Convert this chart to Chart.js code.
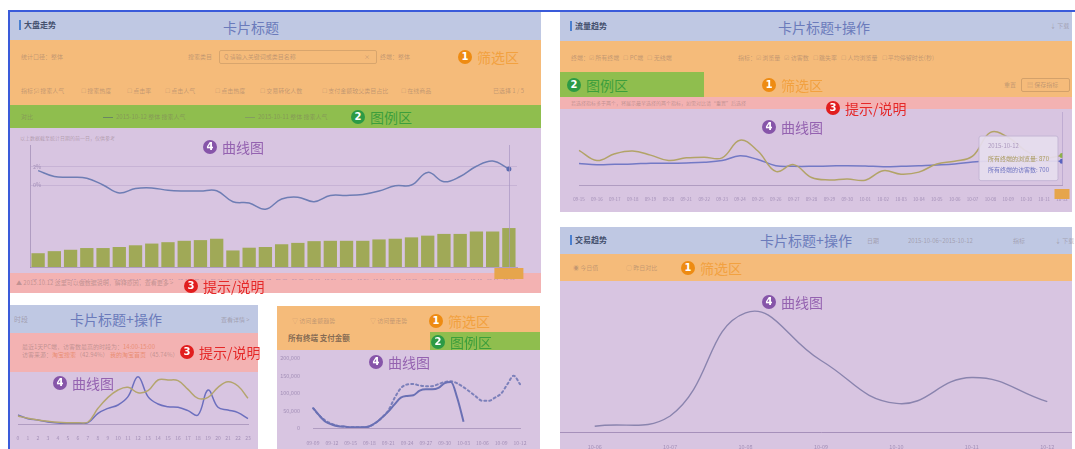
<!DOCTYPE html>
<html>
<head>
<meta charset="utf-8">
<script src="https://cdn.jsdelivr.net/npm/chart.js@4/dist/chart.umd.min.js"></script>
<style>
html,body{margin:0;padding:0;background:#fff;}
body{width:1075px;height:449px;position:relative;overflow:hidden;font-family:"Noto Sans CJK SC","Noto Sans",sans-serif;}
.r{position:absolute;}
.blue{background:#BFC8E3;}
.orange{background:#F5BB7A;}
.green{background:#8FBE4E;}
.pink{background:#F3B2B2;}
.purple{background:#D8C5E1;}
.t{position:absolute;white-space:nowrap;font-size:6px;line-height:8px;color:rgba(120,100,100,.42);}
.ttl{position:absolute;font-size:14px;line-height:16px;color:#6B7BBB;white-space:nowrap;transform:translateX(-50%);}
.tag{position:absolute;display:flex;align-items:center;font-size:14px;line-height:16px;white-space:nowrap;z-index:5;}
.tag b{display:inline-block;width:14px;height:14px;border-radius:50%;color:#fff;font-size:10px;line-height:14px;text-align:center;margin-right:5px;font-family:"DejaVu Sans",sans-serif;}
.c1{color:#F2A140}.c1 b{background:#EE8B12}
.c2{color:#3D9E3C}.c2 b{background:#2C9A45}
.c3{color:#E52828}.c3 b{background:#E11E1E}
.c4{color:#9462B0}.c4 b{background:#8655A9}
.head{position:absolute;font-size:8px;font-weight:bold;color:#44506e;line-height:10px;border-left:2px solid #4a7fd0;padding-left:3px;}
canvas{position:absolute;}
</style>
</head>
<body>
<!-- selection frame -->
<div class="r" style="left:8px;top:10px;width:1067px;height:439px;border-left:2px solid #3A5BDA;border-top:2px solid #3A5BDA;"></div>

<!-- card 1 -->
<div class="r blue" style="left:10px;top:12px;width:531px;height:28px"></div>
<div class="r orange" style="left:10px;top:40px;width:531px;height:65px"></div>
<div class="r green" style="left:10px;top:105px;width:531px;height:23px"></div>
<div class="r purple" style="left:10px;top:128px;width:531px;height:145px"></div>
<div class="r pink" style="left:10px;top:273px;width:531px;height:20px"></div>

<!-- card 2 -->
<div class="r blue" style="left:560px;top:12px;width:512px;height:29px"></div>
<div class="r orange" style="left:560px;top:41px;width:512px;height:56px"></div>
<div class="r green" style="left:560px;top:72px;width:144px;height:25px"></div>
<div class="r pink" style="left:560px;top:97px;width:512px;height:12px"></div>
<div class="r purple" style="left:560px;top:109px;width:512px;height:103px"></div>

<!-- card 3 -->
<div class="r blue" style="left:560px;top:227px;width:512px;height:27px"></div>
<div class="r orange" style="left:560px;top:254px;width:512px;height:27px"></div>
<div class="r purple" style="left:560px;top:281px;width:512px;height:168px"></div>

<!-- card 4 -->
<div class="r blue" style="left:10px;top:305px;width:248px;height:28px"></div>
<div class="r pink" style="left:10px;top:333px;width:248px;height:39px"></div>
<div class="r purple" style="left:10px;top:372px;width:248px;height:77px"></div>

<!-- card 5 -->
<div class="r orange" style="left:277px;top:306px;width:263px;height:44px"></div>
<div class="r green" style="left:430px;top:332px;width:110px;height:18px"></div>
<div class="r purple" style="left:277px;top:350px;width:263px;height:99px"></div>

<!-- faint ui text -->
<div class="head" style="left:19px;top:20px">大盘走势</div>
<div class="t" style="left:21px;top:53px">统计口径：整体</div>
<div class="t" style="left:188px;top:53px">搜索类目</div>
<div class="r" style="left:219px;top:50px;width:156px;height:12px;border:1px solid rgba(150,115,80,.3);border-radius:2px"></div>
<div class="t" style="left:224px;top:53px">Q 请输入关键词或类目名称</div>
<div class="t" style="left:364px;top:53px">×</div>
<div class="t" style="left:380px;top:53px">终端：整体</div>
<div class="t" style="left:21px;top:87px">指标：</div>
<div class="t" style="left:34px;top:87px">☑ 搜索人气</div>
<div class="t" style="left:81px;top:87px">☐ 搜索热度</div>
<div class="t" style="left:127px;top:87px">☐ 点击率</div>
<div class="t" style="left:165px;top:87px">☐ 点击人气</div>
<div class="t" style="left:215px;top:87px">☐ 点击热度</div>
<div class="t" style="left:260px;top:87px">☐ 交易转化人数</div>
<div class="t" style="left:322px;top:87px">☐ 支付金额较父类目占比</div>
<div class="t" style="left:401px;top:87px">☐ 在线商品</div>
<div class="t" style="left:493px;top:87px">已选择 1 / 5</div>
<div class="t" style="left:21px;top:113px">对比</div>
<div class="r" style="left:103px;top:117px;width:10px;height:1px;background:rgba(70,80,120,.5)"></div>
<div class="t" style="left:116px;top:113px">2015-10-12 整体 搜索人气</div>
<div class="r" style="left:245px;top:117px;width:10px;height:1px;background:rgba(120,120,120,.45)"></div>
<div class="t" style="left:258px;top:113px">2015-10-11 整体 搜索人气</div>
<div class="t" style="left:20px;top:134px;font-size:5px">以上数据截至统计日期的前一日，仅供参考</div>
<div class="t" style="left:16px;top:279px">▲ 2015.10.12 这里可以做数据说明，解释原因，查看更多 &gt;</div>

<div class="head" style="left:570px;top:21px">流量趋势</div>
<div class="t" style="left:1050px;top:22px">↓ 下载</div>
<div class="t" style="left:571px;top:54px">终端：☑ 所有终端 &nbsp; ☐ PC端 &nbsp; ☐ 无线端</div>
<div class="t" style="left:738px;top:54px">指标：☑ 浏览量 &nbsp; ☑ 访客数 &nbsp; ☐ 跳失率 &nbsp; ☐ 人均浏览量 &nbsp; ☐ 平均停留时长(秒)</div>
<div class="t" style="left:1004px;top:81px">重置</div>
<div class="r" style="left:1021px;top:78px;width:47px;height:12px;border:1px solid rgba(150,115,80,.35);border-radius:2px"></div>
<div class="t" style="left:1027px;top:81px">▤ 保存指标</div>
<div class="t" style="left:571px;top:99px;font-size:5px">若选择指标多于两个，将展示最早选择的两个指标，如需对比请“重置”后选择</div>

<div class="head" style="left:570px;top:235px">交易趋势</div>
<div class="t" style="left:867px;top:237px">日期</div>
<div class="t" style="left:908px;top:237px">2015-10-06~2015-10-12</div>
<div class="t" style="left:1013px;top:237px">指标</div>
<div class="t" style="left:1055px;top:237px">↓ 下载</div>
<div class="t" style="left:573px;top:264px">◉ 今日值</div>
<div class="t" style="left:626px;top:264px">○ 昨日对比</div>

<div class="t" style="left:14px;top:315px;font-size:7px;line-height:9px">时段</div>
<div class="t" style="left:221px;top:316px">查看详情 &gt;</div>
<div class="t" style="left:22px;top:343px">最近1天PC端，访客数最高的时段为：<span style="color:rgba(225,110,60,.55)">14:00-15:00</span></div>
<div class="t" style="left:22px;top:351px">访客来源：<span style="color:rgba(225,110,60,.55)">淘宝搜索</span>（42.94%） <span style="color:rgba(225,110,60,.55)">我的淘宝首页</span>（45.74%）</div>

<div class="t" style="left:292px;top:317px">▽ 访问金额趋势</div>
<div class="t" style="left:370px;top:317px">▽ 访问量走势</div>
<div class="t" style="left:288px;top:333px;font-size:7.5px;line-height:9px;font-weight:bold;color:rgba(95,80,70,.75)">所有终端 支付金额</div>

<!-- charts -->
<canvas id="c1" width="531" height="152" style="left:10px;top:128px"></canvas>
<canvas id="c2" width="512" height="100" style="left:560px;top:109px"></canvas>
<div class="r" style="left:560px;top:281px;width:512px;height:168px;overflow:hidden">
  <canvas id="c3" width="528" height="168" style="left:-3px;top:0"></canvas>
</div>
<canvas id="c4" width="248" height="77" style="left:10px;top:372px"></canvas>
<canvas id="c5" width="262" height="99" style="left:278px;top:350px"></canvas>

<!-- card titles -->
<div class="ttl" style="left:251px;top:19px">卡片标题</div>
<div class="ttl" style="left:824px;top:19px">卡片标题+操作</div>
<div class="ttl" style="left:806px;top:232px">卡片标题+操作</div>
<div class="ttl" style="left:116px;top:311px">卡片标题+操作</div>

<!-- region tags -->
<div class="tag c1" style="left:458px;top:49px"><b>1</b>筛选区</div>
<div class="tag c2" style="left:351px;top:109px"><b>2</b>图例区</div>
<div class="tag c4" style="left:203px;top:139px"><b>4</b>曲线图</div>
<div class="tag c3" style="left:184px;top:278px"><b>3</b>提示/说明</div>

<div class="tag c2" style="left:567px;top:77px"><b>2</b>图例区</div>
<div class="tag c1" style="left:762px;top:77px"><b>1</b>筛选区</div>
<div class="tag c3" style="left:826px;top:100px"><b>3</b>提示/说明</div>
<div class="tag c4" style="left:762px;top:119px"><b>4</b>曲线图</div>

<div class="tag c1" style="left:681px;top:260px"><b>1</b>筛选区</div>
<div class="tag c4" style="left:762px;top:294px"><b>4</b>曲线图</div>

<div class="tag c3" style="left:180px;top:344px"><b>3</b>提示/说明</div>
<div class="tag c4" style="left:53px;top:375px"><b>4</b>曲线图</div>

<div class="tag c1" style="left:429px;top:313px"><b>1</b>筛选区</div>
<div class="tag c2" style="left:431px;top:334px"><b>2</b>图例区</div>
<div class="tag c4" style="left:369px;top:354px"><b>4</b>曲线图</div>

<script>
// 大盘走势: search popularity (bars) + change rate % (line)
const dpLabels = ['09-13','09-14','09-15','09-16','09-17','09-18','09-19','09-20','09-21','09-22',
  '09-23','09-24','09-25','09-26','09-27','09-28','09-29','09-30','10-01','10-02',
  '10-03','10-04','10-05','10-06','10-07','10-08','10-09','10-10','10-11','10-12'];
const dpSearch = [4000, 4600, 5000, 5500, 5500, 5800, 6300, 6800, 7200, 7600,
  7800, 8200, 4800, 5600, 5800, 6600, 7000, 7500, 7600, 7600,
  7600, 8000, 8200, 8600, 9100, 9600, 9600, 10300, 10300, 11300];
const dpRate = [1.6, 0.94, 0.86, 0.75, 0.0, -0.89, -0.39, -0.32, -0.59, -0.67,
  -0.67, -0.63, -1.85, -2.0, -2.69, -1.55, -1.35, -1.85, -1.16, -1.16,
  -1.05, -0.67, -0.09, 0.0, 1.4, 0.36, 0.94, 2.08, 2.66, 1.79];
const dpRateTicks = [0, 2, 4];

// 流量趋势: page views / visitors
const flowLabels = ['09-15','09-16','09-17','09-18','09-19','09-20','09-21','09-22','09-23','09-24',
  '09-25','09-26','09-27','09-28','09-29','09-30','10-01','10-02','10-03','10-04',
  '10-05','10-06','10-07','10-08','10-09','10-10','10-11','10-12'];
const flowPV = [1020, 720, 920, 1000, 880, 720, 800, 820, 800, 1320,
  1000, 400, 600, 220, 150, 180, 140, 420, 320, 380,
  620, 700, 850, 1550, 1400, 1000, 800, 870];
const flowUV = [630, 600, 610, 620, 640, 640, 650, 670, 720, 860,
  750, 570, 550, 550, 560, 570, 560, 540, 550, 570,
  590, 620, 680, 700, 700, 700, 700, 700];

// 交易趋势
const tradeLabels = ['10-06','10-07','10-08','10-09','10-10','10-11','10-12'];
const tradeValues = [1700, 4700, 35000, 21000, 8400, 16000, 8900];

// 时段
const hourLabels = ['0','1','2','3','4','5','6','7','8','9','10','11',
  '12','13','14','15','16','17','18','19','20','21','22','23'];
const hourToday = [24, 17, 12, 8, 5, 4, 4, 6, 47, 80, 102, 110,
  94, 100, 132, 132, 130, 104, 77, 80, 110, 127, 114, 77];
const hourCompare = [27, 16, 12, 6, 3, 2, 2, 4, 32, 47, 57, 82,
  142, 82, 60, 52, 50, 40, 27, 102, 50, 42, 34, 16];

// 支付金额
const payLabels = ['09-09','09-10','09-11','09-12','09-13','09-14','09-15','09-16','09-17','09-18',
  '09-19','09-20','09-21','09-22','09-23','09-24','09-25','09-26','09-27','09-28',
  '09-29','09-30','10-01','10-02','10-03','10-04','10-05','10-06','10-07','10-08',
  '10-09','10-10','10-11','10-12'];
const payCurrent = [58000, 36000, 18000, 10000, 5000, 4000, 2000, 2000, 2000, 5000,
  15000, 30000, 47000, 68000, 87000, 92000, 94000, 107000, 111000, 111000,
  115000, 129000, 132000, 86000, 18000, null, null, null, null, null,
  null, null, null, null];
const payCompare = [57000, 36000, 21000, 12000, 6000, 4000, 2000, 2000, 2000, 4500,
  15000, 30000, 50000, 86000, 114000, 125000, 126000, 122000, 120000, 120000,
  126000, 132000, 134000, 128000, 117000, 104000, 90000, 78000, 78000, 87000,
  99000, 126000, 150000, 126000];

Chart.defaults.font.family = '"Noto Sans CJK SC","Noto Sans",sans-serif';
Chart.defaults.color = 'rgba(140,120,165,0.7)';
Chart.defaults.animation = false;
Chart.defaults.responsive = false;
Chart.defaults.plugins.legend.display = false;
Chart.defaults.plugins.tooltip.enabled = false;

// crosshair + highlighted x label for the hovered day
const markPlugin = {
  id: 'mark',
  afterDraw(chart, args, opts) {
    if (opts.index == null) return;
    const x = chart.scales.x.getPixelForValue(opts.index);
    const a = chart.chartArea;
    const c = chart.ctx;
    c.save();
    if (opts.line) {
      c.strokeStyle = opts.line;
      c.lineWidth = 1;
      c.beginPath();
      c.moveTo(Math.round(x) + 0.5, a.top);
      c.lineTo(Math.round(x) + 0.5, a.bottom);
      c.stroke();
    }
    if (opts.box) {
      c.fillStyle = opts.box;
      c.fillRect(x - opts.w / 2, a.bottom + opts.dy, opts.w, opts.h);
    }
    c.restore();
  }
};
Chart.register(markPlugin);

const fixH = h => (s => { s.height = h; });
const fixW = w => (s => { s.width = w; });
const axisCol = 'rgba(150,128,172,0.6)';

new Chart(document.getElementById('c1'), {
  type: 'bar',
  data: {
    labels: dpLabels,
    datasets: [
      {
        type: 'line', data: dpRate, yAxisID: 'y',
        borderColor: '#6E7DB4', borderWidth: 1.5, tension: 0.4,
        pointRadius: c => c.dataIndex === dpRate.length - 1 ? 2.5 : 0,
        pointBackgroundColor: '#5A6BB0', pointBorderWidth: 0, order: 0
      },
      {
        type: 'bar', data: dpSearch, yAxisID: 'y1',
        backgroundColor: '#A0A957', categoryPercentage: 0.82, barPercentage: 1, order: 1
      }
    ]
  },
  options: {
    events: [],
    layout: { padding: { left: 20, right: 24, top: 17, bottom: 0 } },
    scales: {
      x: {
        grid: { display: false }, border: { color: axisCol },
        ticks: { font: { size: 4.6 }, autoSkip: false, maxRotation: 0, padding: 3 },
        afterFit: fixH(13)
      },
      y: {
        position: 'left', min: -9.1, max: 4.44,
        ticks: { stepSize: 2, mirror: true, padding: 3, font: { size: 5.5 },
          callback: v => dpRateTicks.includes(v) ? v + '%' : '' },
        grid: { drawTicks: false,
          color: c => c.tick && dpRateTicks.includes(c.tick.value) ? 'rgba(160,140,185,0.3)' : 'transparent' },
        border: { color: axisCol },
        afterFit: fixW(0)
      },
      y1: { display: false, min: 0, max: 35400 }
    },
    plugins: { mark: { index: dpLabels.length - 1, line: 'rgba(170,150,195,0.7)', box: '#E6A54C', w: 29, dy: 1, h: 11 } }
  }
});

const ch2 = new Chart(document.getElementById('c2'), {
  type: 'line',
  data: {
    labels: flowLabels,
    datasets: [
      { label: '所有终端的浏览量', data: flowPV, borderColor: '#B2A367', borderWidth: 1.5, tension: 0.4,
        pointRadius: 0, pointHoverRadius: 2.5, pointHoverBackgroundColor: '#8DB04A', pointHoverBorderWidth: 0 },
      { label: '所有终端的访客数', data: flowUV, borderColor: '#7379C5', borderWidth: 1.5, tension: 0.4,
        pointRadius: 0, pointHoverRadius: 2.5, pointHoverBackgroundColor: '#5A63C0', pointHoverBorderWidth: 0 }
    ]
  },
  options: {
    events: [],
    layout: { padding: { left: 19, right: 10, top: 3 } },
    scales: {
      x: {
        grid: { display: false }, border: { color: axisCol },
        ticks: { font: { size: 4.5 }, autoSkip: false, maxRotation: 0, padding: 4 },
        afterFit: fixH(24)
      },
      y: { display: false, min: 0, max: 2150 }
    },
    plugins: {
      mark: { index: flowLabels.length - 1, line: 'rgba(175,155,200,0.6)', box: '#E6A54C', w: 15, dy: 4, h: 10 },
      tooltip: {
        enabled: true, xAlign: 'right', yAlign: 'center',
        backgroundColor: 'rgba(230,221,238,0.92)', borderColor: 'rgba(195,180,212,0.95)', borderWidth: 1,
        cornerRadius: 2, caretSize: 0, caretPadding: 4,
        padding: { top: 6, bottom: 7, left: 9, right: 9 },
        titleFont: { size: 6, weight: 'normal' }, titleColor: 'rgba(165,145,185,0.9)', titleMarginBottom: 6,
        bodyFont: { size: 6 }, bodySpacing: 4, displayColors: false,
        callbacks: {
          title: () => '2015-10-12',
          labelTextColor: c => c.datasetIndex ? '#6E74C2' : '#A99A5E'
        }
      }
    }
  }
});
const act = [{ datasetIndex: 0, index: flowLabels.length - 1 }, { datasetIndex: 1, index: flowLabels.length - 1 }];
ch2.setActiveElements(act);
ch2.tooltip.setActiveElements(act, { x: 0, y: 0 });
ch2.update();

new Chart(document.getElementById('c3'), {
  type: 'line',
  data: {
    labels: tradeLabels,
    datasets: [{ data: tradeValues, borderColor: '#8A84AE', borderWidth: 1.4, tension: 0.45, pointRadius: 0 }]
  },
  options: {
    events: [],
    layout: { padding: { top: 9 } },
    scales: {
      x: {
        offset: true, grid: { display: false }, border: { color: 'rgba(150,125,172,0.75)' },
        ticks: { font: { size: 5.5 }, padding: 4 },
        afterFit: fixH(17)
      },
      y: { display: false, min: 0, max: 41700 }
    }
  }
});

new Chart(document.getElementById('c4'), {
  type: 'line',
  data: {
    labels: hourLabels,
    datasets: [
      { data: hourToday, borderColor: '#B4A56E', borderWidth: 1.5, tension: 0.4, pointRadius: 0 },
      { data: hourCompare, borderColor: '#6C6FBE', borderWidth: 1.5, tension: 0.4, pointRadius: 0 }
    ]
  },
  options: {
    events: [],
    layout: { padding: { left: 8, right: 10, top: 2 } },
    scales: {
      x: {
        grid: { display: false }, border: { color: axisCol },
        ticks: { font: { size: 5 }, autoSkip: false, maxRotation: 0, padding: 3 },
        afterFit: fixH(25)
      },
      y: { display: false, min: 0, max: 150 }
    }
  }
});

new Chart(document.getElementById('c5'), {
  type: 'line',
  data: {
    labels: payLabels,
    datasets: [
      { data: payCurrent, borderColor: '#6A70B4', borderWidth: 2, cubicInterpolationMode: 'monotone', pointRadius: 0 },
      { data: payCompare, borderColor: '#7C80BA', borderWidth: 2, borderDash: [2, 3], borderCapStyle: 'round',
        cubicInterpolationMode: 'monotone', pointRadius: 0 }
    ]
  },
  options: {
    events: [],
    layout: { padding: { right: 20, top: 4 } },
    scales: {
      x: {
        grid: { display: false }, border: { color: axisCol },
        ticks: { font: { size: 5 }, autoSkip: false, maxRotation: 0, padding: 4,
          callback: (v, i) => i % 3 === 0 ? payLabels[i] : '' },
        afterFit: fixH(21)
      },
      y: {
        min: 0, max: 200000, grid: { display: false }, border: { display: false },
        ticks: { stepSize: 50000, font: { size: 5.5 }, padding: 5 },
        afterFit: fixW(35)
      }
    }
  }
});
</script>
</body>
</html>
